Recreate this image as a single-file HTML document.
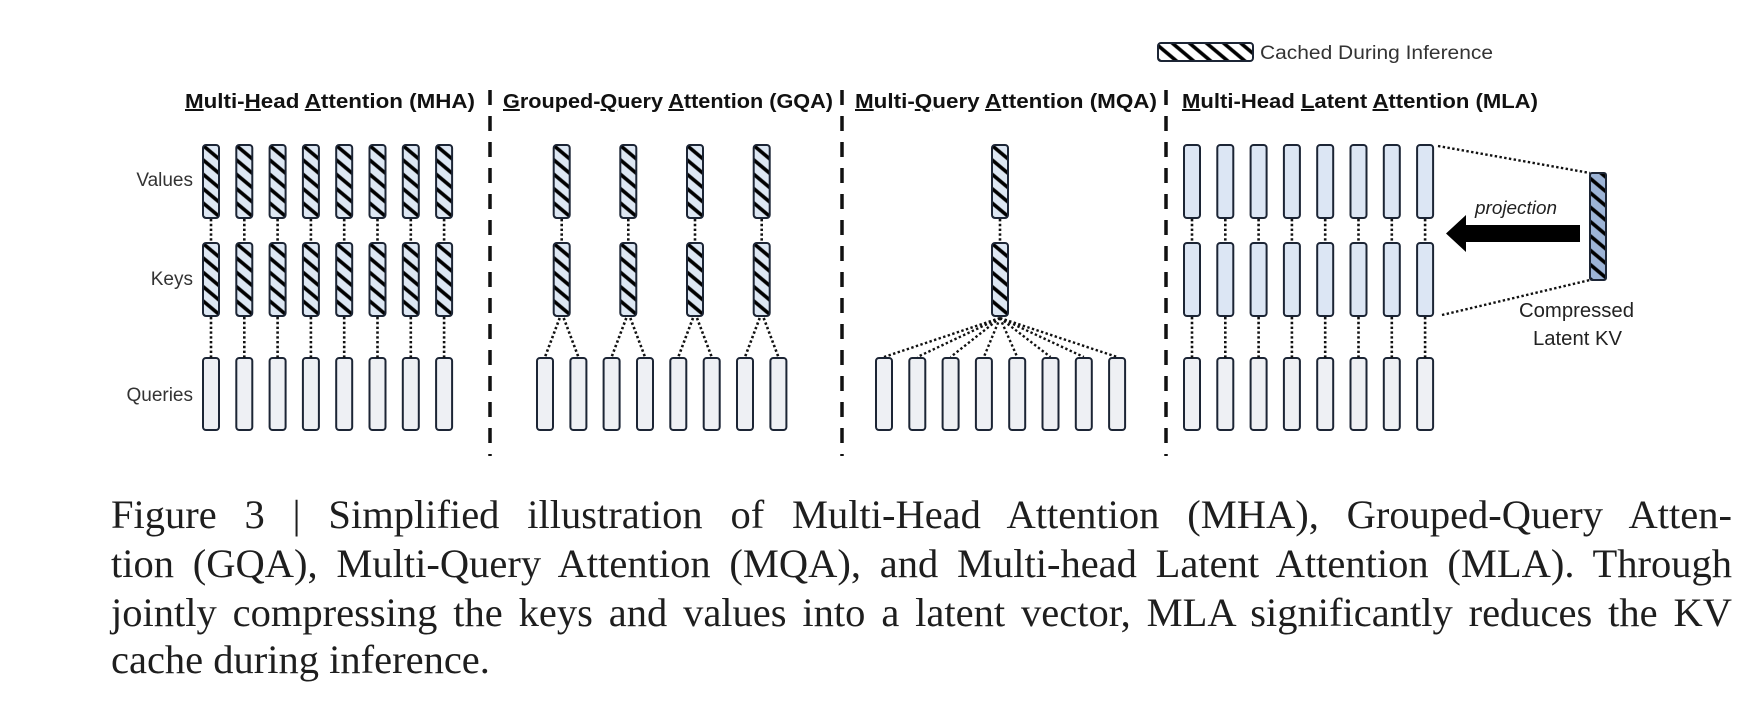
<!DOCTYPE html>
<html><head><meta charset="utf-8">
<style>
html,body{margin:0;padding:0;background:#fff;}
body{width:1746px;height:722px;position:relative;overflow:hidden;}
svg{position:absolute;left:0;top:0;}
.cap{position:absolute;left:111px;width:1621px;font-family:"Liberation Serif",serif;font-size:40.5px;line-height:48px;color:#1e1e1e;white-space:nowrap;}
.j{text-align:justify;text-align-last:justify;white-space:normal;}
</style></head>
<body>
<svg width="1746" height="722" viewBox="0 0 1746 722" xmlns="http://www.w3.org/2000/svg">
<defs>
  <pattern id="hatch" patternUnits="userSpaceOnUse" width="11" height="20" patternTransform="rotate(-50)">
    <line x1="5.5" y1="-2" x2="5.5" y2="22" stroke="#000" stroke-width="3.6"/>
  </pattern>
  <g id="hv">
    <rect x="-8" y="0" width="16" height="73" rx="3" fill="#dde7f3"/>
    <rect x="-8" y="0" width="16" height="73" rx="3" fill="url(#hatch)" stroke="#1c2535" stroke-width="2"/>
  </g>
  <g id="q"><rect x="-8" y="358" width="16" height="72" rx="3" fill="#eef0f4" stroke="#1c2535" stroke-width="2"/></g>
  <g id="m"><rect x="-8" y="0" width="16" height="73" rx="3" fill="#dce6f4" stroke="#1c2535" stroke-width="2"/></g>
  <g id="mha">
    <use href="#hv" y="145"/><use href="#hv" y="243"/><use href="#q"/>
    <line x1="0" y1="219" x2="0" y2="243" stroke="#111" stroke-width="2.6" stroke-dasharray="2.4 2.4"/>
    <line x1="0" y1="317" x2="0" y2="358" stroke="#111" stroke-width="2.6" stroke-dasharray="2.4 2.4"/>
  </g>
  <g id="mla">
    <use href="#m" y="145"/><use href="#m" y="243"/><use href="#q"/>
    <line x1="0" y1="219" x2="0" y2="243" stroke="#111" stroke-width="2.6" stroke-dasharray="2.4 2.4"/>
    <line x1="0" y1="317" x2="0" y2="358" stroke="#111" stroke-width="2.6" stroke-dasharray="2.4 2.4"/>
  </g>
  <g id="gqa">
    <use href="#hv" y="145"/><use href="#hv" y="243"/>
    <use href="#q" x="-16.7"/><use href="#q" x="16.7"/>
    <line x1="0" y1="219" x2="0" y2="243" stroke="#111" stroke-width="2.6" stroke-dasharray="2.4 2.4"/>
    <line x1="-2" y1="318" x2="-16.7" y2="357" stroke="#111" stroke-width="2.6" stroke-dasharray="2.4 2.4"/>
    <line x1="2" y1="318" x2="16.7" y2="357" stroke="#111" stroke-width="2.6" stroke-dasharray="2.4 2.4"/>
  </g>
</defs>

<rect x="1158" y="43" width="95" height="18" rx="3" fill="#fff"/>
<rect x="1158" y="43" width="95" height="18" rx="3" fill="url(#hatch)" stroke="#1c2535" stroke-width="2"/>
<text x="1260" y="59" font-family="Liberation Sans, sans-serif" font-size="19" fill="#333" textLength="233" lengthAdjust="spacingAndGlyphs">Cached During Inference</text>

<g font-family="Liberation Sans, sans-serif" font-weight="bold" font-size="20" fill="#111">
<text x="185" y="108" textLength="290" lengthAdjust="spacingAndGlyphs"><tspan text-decoration="underline">M</tspan>ulti-<tspan text-decoration="underline">H</tspan>ead <tspan text-decoration="underline">A</tspan>ttention (MHA)</text>
<text x="503" y="108" textLength="330" lengthAdjust="spacingAndGlyphs"><tspan text-decoration="underline">G</tspan>rouped-<tspan text-decoration="underline">Q</tspan>uery <tspan text-decoration="underline">A</tspan>ttention (GQA)</text>
<text x="855" y="108" textLength="302" lengthAdjust="spacingAndGlyphs"><tspan text-decoration="underline">M</tspan>ulti-<tspan text-decoration="underline">Q</tspan>uery <tspan text-decoration="underline">A</tspan>ttention (MQA)</text>
<text x="1182" y="108" textLength="356" lengthAdjust="spacingAndGlyphs"><tspan text-decoration="underline">M</tspan>ulti-Head <tspan text-decoration="underline">L</tspan>atent <tspan text-decoration="underline">A</tspan>ttention (MLA)</text>
</g>

<g stroke="#111" stroke-width="3.5" stroke-dasharray="15 11">
<line x1="490" y1="90" x2="490" y2="456"/>
<line x1="842" y1="90" x2="842" y2="456"/>
<line x1="1166" y1="90" x2="1166" y2="456"/>
</g>

<g font-family="Liberation Sans, sans-serif" font-size="19" fill="#333" text-anchor="end">
<text x="193" y="186">Values</text>
<text x="193" y="285">Keys</text>
<text x="193" y="401">Queries</text>
</g>

<use href="#mha" x="211"/><use href="#mha" x="244.3"/><use href="#mha" x="277.6"/><use href="#mha" x="310.9"/>
<use href="#mha" x="344.2"/><use href="#mha" x="377.5"/><use href="#mha" x="410.8"/><use href="#mha" x="444.1"/>

<use href="#gqa" x="561.7"/><use href="#gqa" x="628.3"/><use href="#gqa" x="695"/><use href="#gqa" x="761.7"/>

<use href="#hv" x="1000" y="145"/><use href="#hv" x="1000" y="243"/>
<line x1="1000" y1="219" x2="1000" y2="243" stroke="#111" stroke-width="2.6" stroke-dasharray="2.4 2.4"/>
<g stroke="#111" stroke-width="2.4" stroke-dasharray="2.4 2.4">
<line x1="1000" y1="318" x2="884" y2="357"/>
<line x1="1000" y1="318" x2="917.3" y2="357"/>
<line x1="1000" y1="318" x2="950.6" y2="357"/>
<line x1="1000" y1="318" x2="983.9" y2="357"/>
<line x1="1000" y1="318" x2="1017.2" y2="357"/>
<line x1="1000" y1="318" x2="1050.5" y2="357"/>
<line x1="1000" y1="318" x2="1083.8" y2="357"/>
<line x1="1000" y1="318" x2="1117.1" y2="357"/>
</g>
<use href="#q" x="884"/><use href="#q" x="917.3"/><use href="#q" x="950.6"/><use href="#q" x="983.9"/>
<use href="#q" x="1017.2"/><use href="#q" x="1050.5"/><use href="#q" x="1083.8"/><use href="#q" x="1117.1"/>

<use href="#mla" x="1192"/><use href="#mla" x="1225.3"/><use href="#mla" x="1258.6"/><use href="#mla" x="1291.9"/>
<use href="#mla" x="1325.2"/><use href="#mla" x="1358.5"/><use href="#mla" x="1391.8"/><use href="#mla" x="1425.1"/>

<g stroke="#111" stroke-width="2.4" stroke-dasharray="2.4 2.4">
<line x1="1438" y1="146" x2="1590" y2="173"/>
<line x1="1442" y1="315" x2="1590" y2="280"/>
</g>
<rect x="1590" y="173" width="16" height="107" rx="2" fill="#9db4d6"/>
<rect x="1590" y="173" width="16" height="107" rx="2" fill="url(#hatch)" stroke="#1c2535" stroke-width="2"/>
<polygon points="1446,233.5 1466,215 1466,225 1580,225 1580,242 1466,242 1466,252" fill="#000"/>
<text x="1475" y="214" font-family="Liberation Sans, sans-serif" font-style="italic" font-size="18" fill="#222" textLength="82" lengthAdjust="spacingAndGlyphs">projection</text>
<g font-family="Liberation Sans, sans-serif" font-size="20" fill="#222">
<text x="1519" y="317" textLength="115" lengthAdjust="spacingAndGlyphs">Compressed</text>
<text x="1533" y="345" textLength="89" lengthAdjust="spacingAndGlyphs">Latent KV</text>
</g>
</svg>

<div class="cap j" style="top:491px">Figure 3 | Simplified illustration of Multi-Head Attention (MHA), Grouped-Query Atten-</div>
<div class="cap j" style="top:540px">tion (GQA), Multi-Query Attention (MQA), and Multi-head Latent Attention (MLA). Through</div>
<div class="cap j" style="top:589px">jointly compressing the keys and values into a latent vector, MLA significantly reduces the KV</div>
<div class="cap" style="top:636px">cache during inference.</div>
</body></html>
